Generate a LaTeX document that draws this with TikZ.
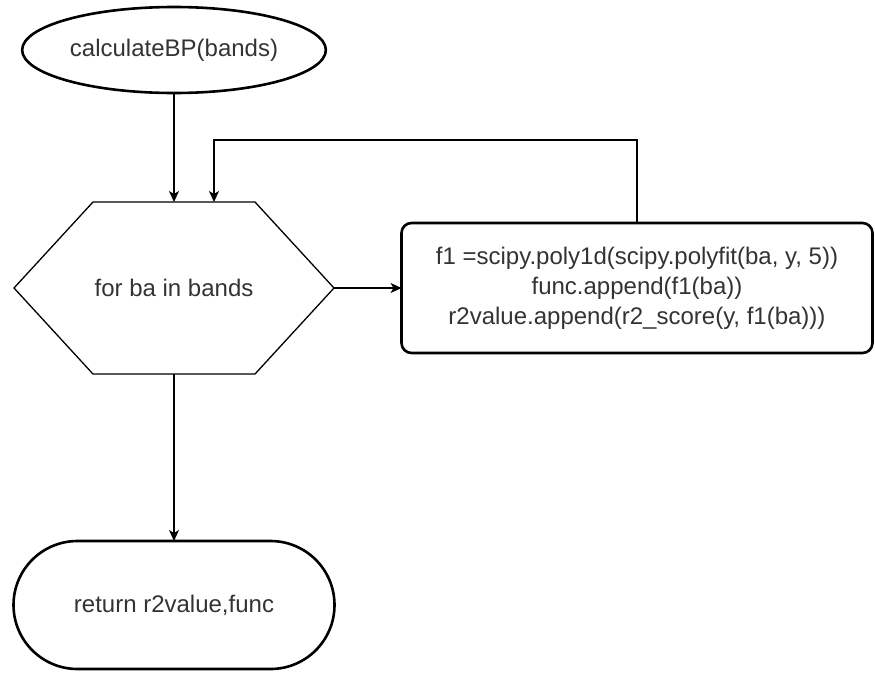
\documentclass[tikz,border=0pt]{standalone}
\usepackage{fontspec}
\setmainfont{Liberation Sans}
\usetikzlibrary{shapes.geometric, arrows.meta}

\begin{document}
\begin{tikzpicture}[
    x=1pt, y=-1pt,
    every node/.style={font=\fontsize{24}{30}\selectfont, text=black!80, outer sep=0pt},
    startbox/.style={ellipse, draw, line width=2.6pt, minimum width=282pt, minimum height=86pt},
    hexbox/.style={rectangle, inner sep=0pt, minimum width=320pt, minimum height=172pt},
    hexline/.style={draw, line width=1.3pt, line join=miter},
    bodybox/.style={rectangle, draw, line width=2.6pt, rounded corners=10pt,
                    minimum width=471pt, minimum height=130pt, align=center},
    endbox/.style={rectangle, draw, line width=2.6pt, rounded corners=64pt,
                   minimum width=321pt, minimum height=128pt},
    flow/.style={-{Stealth[length=11pt, width=10pt, inset=3pt]}, line width=1.3pt}
]
    \useasboundingbox (0,0) rectangle (875,675);

    % Start
    \node[startbox] (start) at (174, 50) {calculateBP(bands)};

    % Loop head (hexagon)
    \node[hexbox] (loop) at (174, 288) {for ba in bands};
    \draw[hexline] (loop.west) -- ([xshift=79pt]loop.north west)
        -- ([xshift=-79pt]loop.north east) -- (loop.east)
        -- ([xshift=-79pt]loop.south east) -- ([xshift=79pt]loop.south west)
        -- cycle;

    % Loop body
    \node[bodybox] (body) at (637, 288)
        {f1 =scipy.poly1d(scipy.polyfit(ba, y, 5))\\
         func.append(f1(ba))\\
         r2value.append(r2\_score(y, f1(ba)))};

    % End
    \node[endbox] (ret) at (174, 605) {return r2value,func};

    % Connectors
    \draw[flow] (start.south) -- (loop.north);
    \draw[flow] (loop.east) -- (body.west);
    \draw[flow] (body.north) -- ++(0,-83) -| ([xshift=40pt]loop.north);
    \draw[flow] (loop.south) -- (ret.north);

\end{tikzpicture}
\end{document}
